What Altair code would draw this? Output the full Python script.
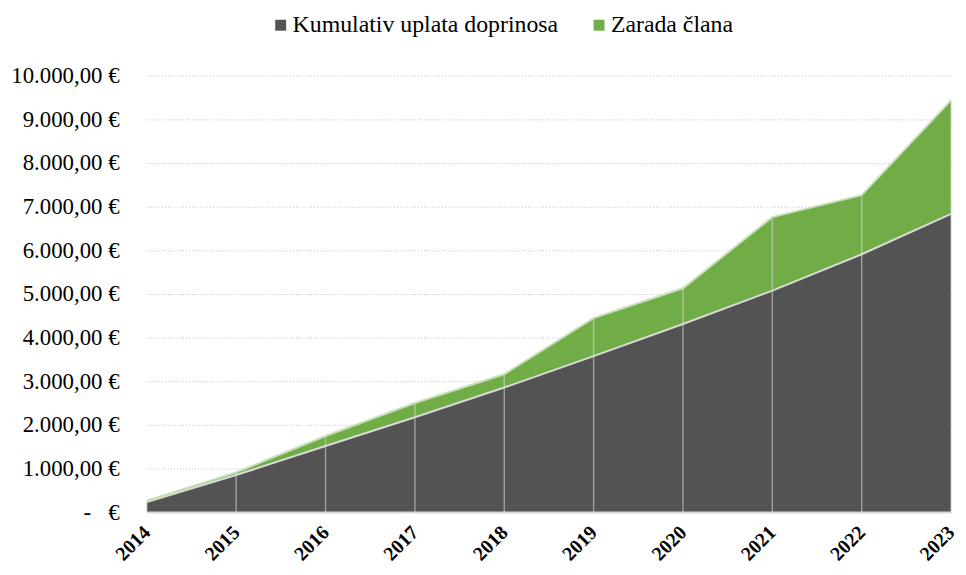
import altair as alt
import pandas as pd

years = [2014, 2015, 2016, 2017, 2018, 2019, 2020, 2021, 2022, 2023]
kumulativ = [230, 850, 1515, 2175, 2855, 3575, 4310, 5075, 5910, 6835]
zarada = [30, 60, 230, 325, 305, 870, 820, 1685, 1355, 2600]
series_names = ["Kumulativ uplata doprinosa", "Zarada člana"]
series_colors = ["#535353", "#70AD47"]
y_ticks = [0, 1000, 2000, 3000, 4000, 5000, 6000, 7000, 8000, 9000, 10000]

rows = []
for i, y in enumerate(years):
    rows.append({"year": y, "series": series_names[0], "value": kumulativ[i], "ord": 0})
    rows.append({"year": y, "series": series_names[1], "value": zarada[i], "ord": 1})
df_long = pd.DataFrame(rows)

df_wide = pd.DataFrame({
    "year": years,
    "kumulativ": kumulativ,
    "total": [k + z for k, z in zip(kumulativ, zarada)],
    "zero": [0] * len(years),
})

FONT = "Liberation Serif"

x_scale = alt.Scale(domain=[2014, 2023], nice=False, zero=False)
y_scale = alt.Scale(domain=[0, 10000], nice=False)

zero_label = "-\u00a0\u00a0\u00a0€"

areas = alt.Chart(df_long).mark_area(opacity=1).encode(
    x=alt.X("year:Q", scale=x_scale, title=None,
            axis=alt.Axis(values=years, format="d", labelAngle=-45,
                          labelAlign="right", labelBaseline="middle",
                          labelFont=FONT, labelFontSize=20, labelFontWeight="bold",
                          labelColor="#000000", labelPadding=17, ticks=False,
                          grid=False, domain=True, domainColor="#D9D9D9",
                          domainWidth=2, labelOverlap=False, labelFlush=False,
                          labelBound=False, zindex=1)),
    y=alt.Y("value:Q", stack="zero", scale=y_scale, title=None,
            axis=alt.Axis(values=y_ticks, domain=False, ticks=False,
                          grid=True, gridColor="#BFBFBF", gridDash=[1, 2], gridWidth=1,
                          labelFont=FONT, labelFontSize=23, labelColor="#000000",
                          labelPadding=28,
                          labelExpr="datum.value == 0 ? '" + zero_label + "' : replace(format(datum.value, ',.0f'), ',', '.') + ',00 €'")),
    color=alt.Color("series:N",
                    scale=alt.Scale(domain=series_names, range=series_colors),
                    legend=alt.Legend(title=None, orient="none", direction="horizontal",
                                      legendX=123, legendY=-63,
                                      symbolType="square", symbolSize=121,
                                      symbolStrokeWidth=0, labelFont=FONT,
                                      labelFontSize=24, labelColor="#000000",
                                      labelLimit=0, labelOffset=0, columnPadding=29)),
    order=alt.Order("ord:Q"),
)

line_k = alt.Chart(df_wide).mark_line(color="#D9D9D9", strokeWidth=2).encode(
    x=alt.X("year:Q", scale=x_scale, title=None),
    y=alt.Y("kumulativ:Q", scale=y_scale, title=None),
)

line_t = alt.Chart(df_wide).mark_line(color="#C5E0B4", strokeWidth=2).encode(
    x=alt.X("year:Q", scale=x_scale, title=None),
    y=alt.Y("total:Q", scale=y_scale, title=None),
)

rules = alt.Chart(df_wide).mark_rule(color="#D9D9D9", opacity=0.55, strokeWidth=1.5).encode(
    x=alt.X("year:Q", scale=x_scale, title=None),
    y=alt.Y("zero:Q", scale=y_scale, title=None),
    y2="total:Q",
)

chart = alt.layer(areas, line_k, line_t, rules).properties(
    width=811,
    height=440,
    autosize=alt.AutoSizeParams(type="none"),
    padding={"left": 140, "top": 66, "right": 7, "bottom": 53},
).configure_view(stroke=None)

chart.save("out.html", embed_options={"renderer": "svg", "actions": False})
